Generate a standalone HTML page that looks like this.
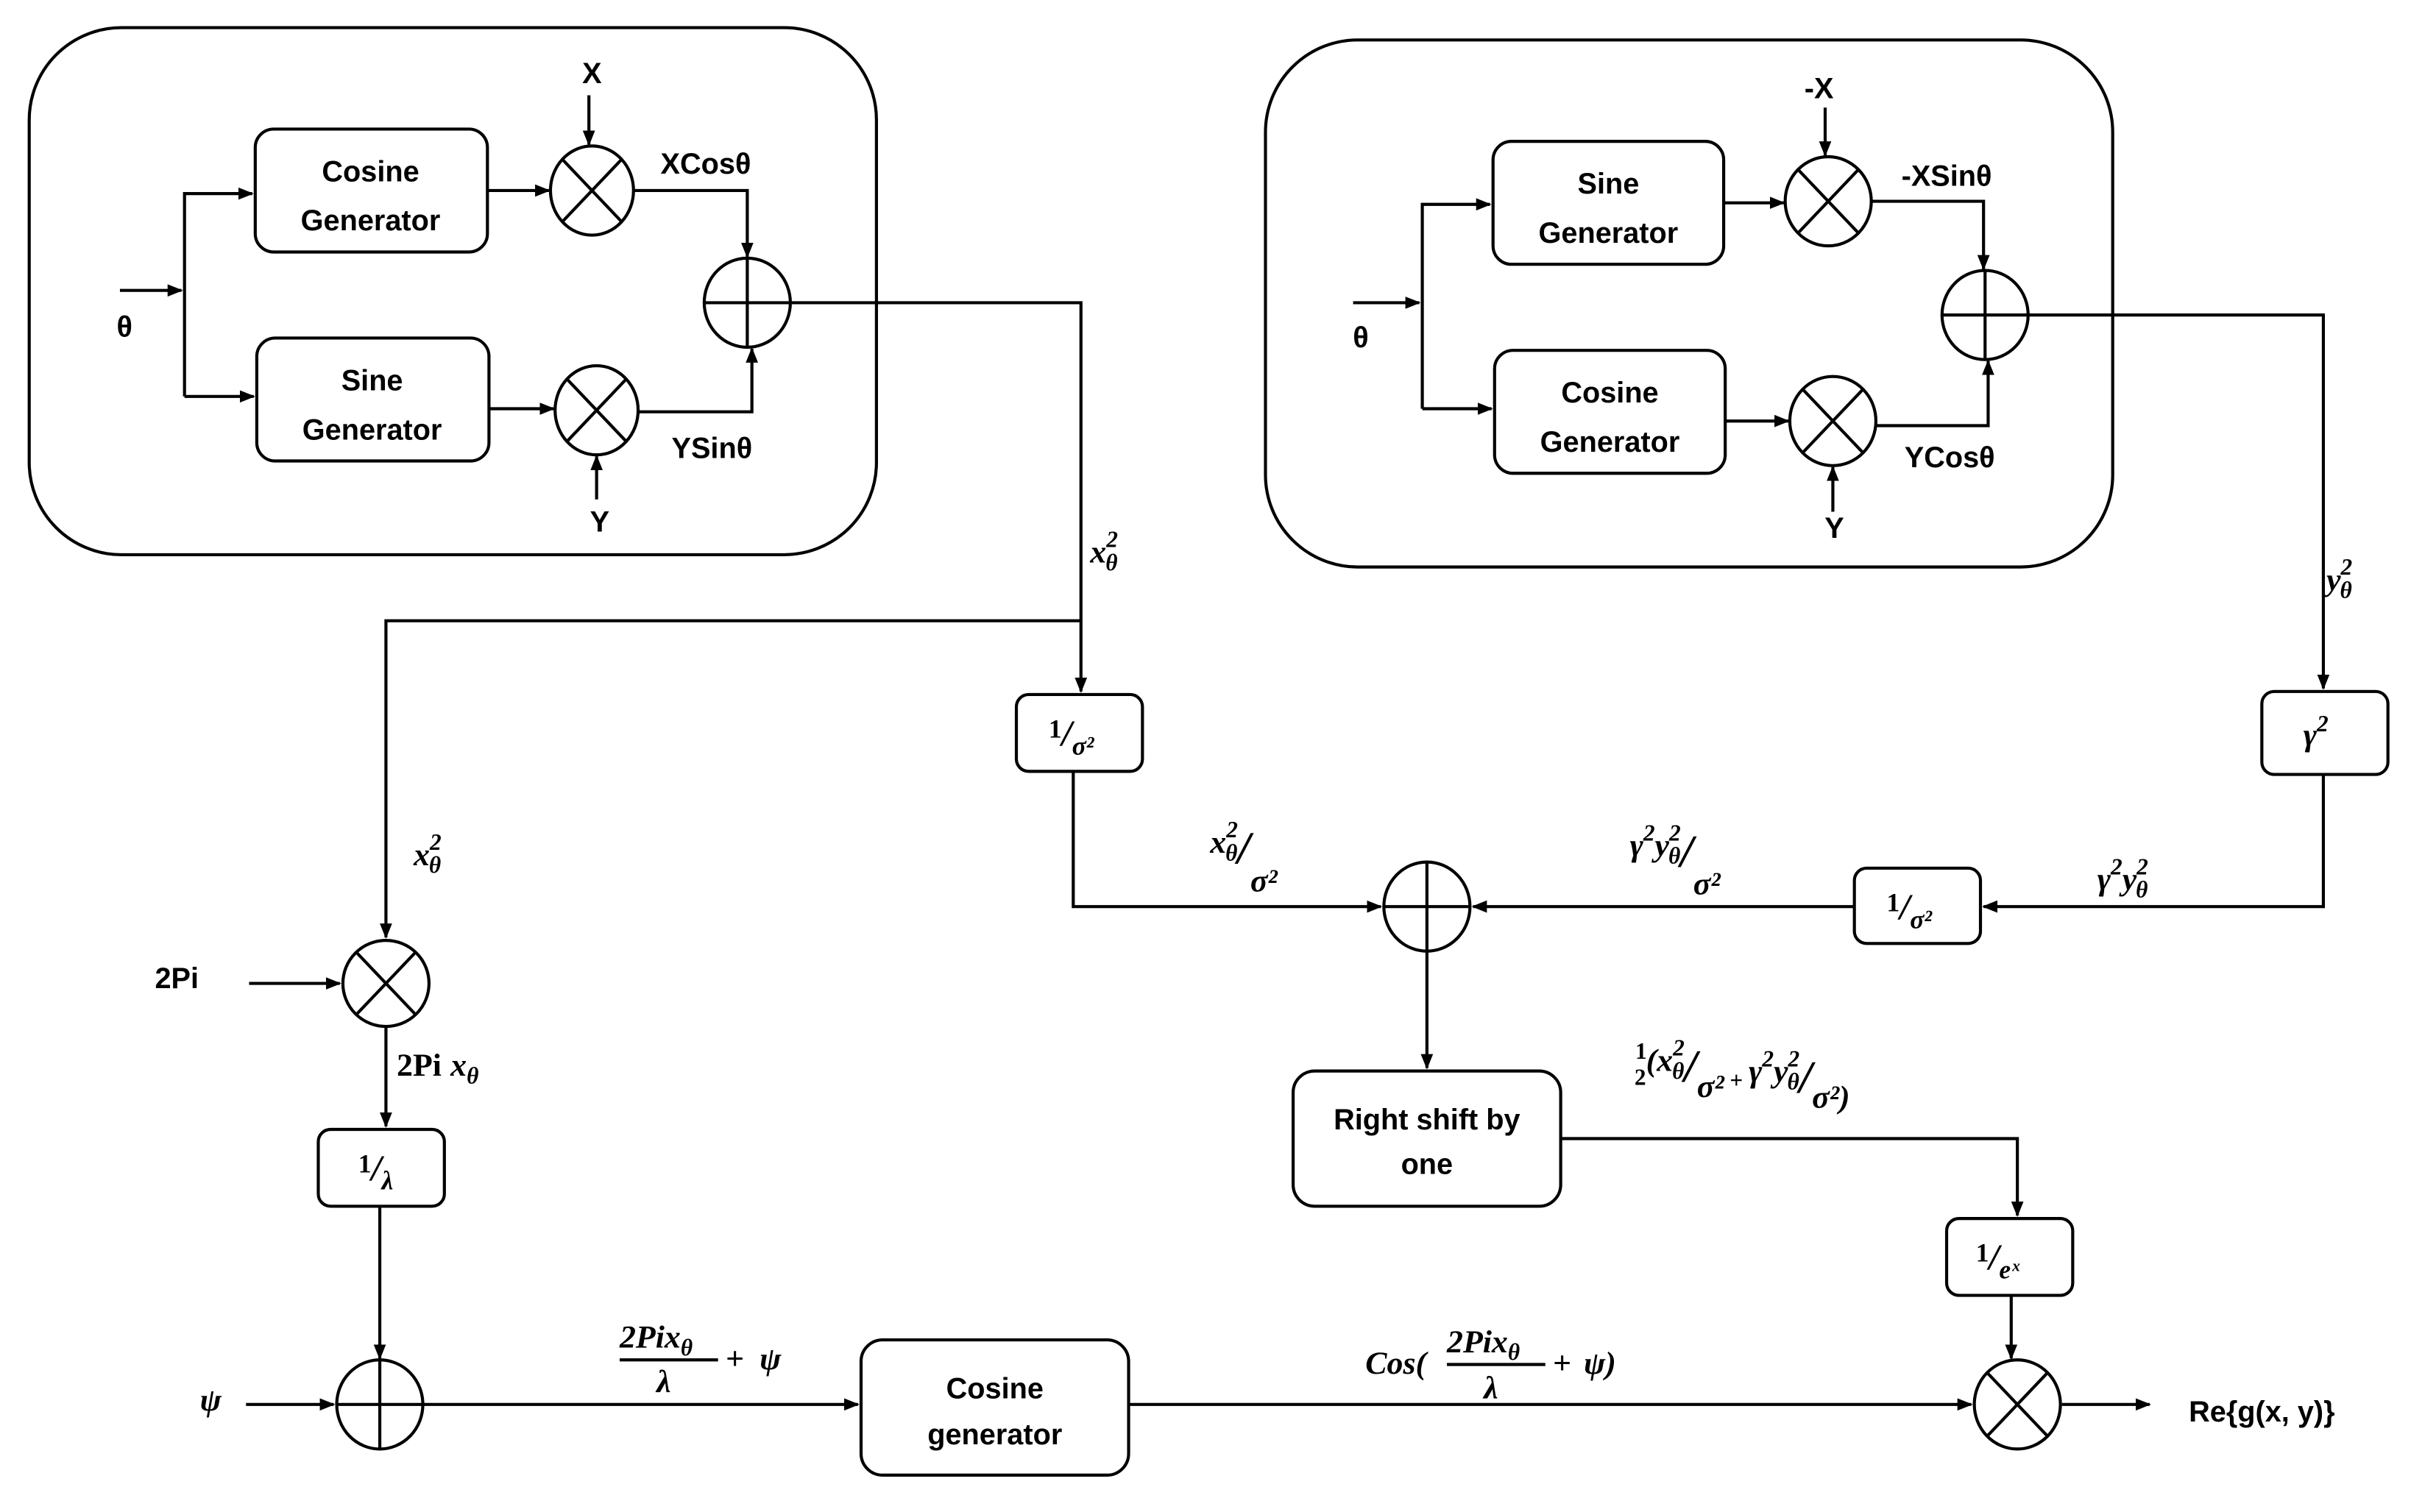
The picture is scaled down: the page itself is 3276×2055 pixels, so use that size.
<!DOCTYPE html>
<html><head><meta charset="utf-8"><style>
html,body{margin:0;padding:0;background:#fff;}
svg{display:block;}
.t{font-family:"Liberation Sans",sans-serif;font-weight:bold;font-size:19px;fill:#000;}
.m{font-family:"Liberation Serif",serif;font-style:italic;font-weight:bold;font-size:21px;fill:#000;}
.s{font-size:15px;}
.b{font-size:17px;}
</style></head><body>
<svg width="3276" height="2055" viewBox="0 0 1568 984" preserveAspectRatio="none" xmlns="http://www.w3.org/2000/svg">
<defs><marker id="a" markerWidth="10" markerHeight="10" refX="9" refY="5" orient="auto" markerUnits="userSpaceOnUse"><path d="M0,1 L10,5 L0,9 z" fill="#000"/></marker></defs>
<g fill="none" stroke="#000" stroke-width="2">
<rect x="19" y="18" width="551" height="343" rx="60"/>
<rect x="166" y="84" width="151" height="80" rx="12"/>
<rect x="167" y="220" width="151" height="80" rx="12"/>
<ellipse cx="385" cy="124" rx="27" ry="29"/><path d="M366,104 L404,144 M404,104 L366,144"/>
<ellipse cx="388" cy="267" rx="27" ry="29"/><path d="M369,247 L407,287 M407,247 L369,287"/>
<ellipse cx="486" cy="197" rx="28" ry="29"/><path d="M458,197 H514 M486,168 V226"/>
<path d="M78,189 H118" marker-end="url(#a)"/>
<path d="M120,258 V126 H164" marker-end="url(#a)"/>
<path d="M120,258 H165" marker-end="url(#a)"/>
<path d="M317,124 H357" marker-end="url(#a)"/>
<path d="M318,266 H360" marker-end="url(#a)"/>
<path d="M383,62 V94" marker-end="url(#a)"/>
<path d="M388,325 V297" marker-end="url(#a)"/>
<path d="M412,124 H486 V167" marker-end="url(#a)"/>
<path d="M415,268 H489 V227" marker-end="url(#a)"/>
<rect x="823" y="26" width="551" height="343" rx="60"/>
<rect x="971" y="92" width="150" height="80" rx="12"/>
<rect x="972" y="228" width="150" height="80" rx="12"/>
<ellipse cx="1189" cy="131" rx="28" ry="29"/><path d="M1170,111 L1208,151 M1208,111 L1170,151"/>
<ellipse cx="1192" cy="274" rx="28" ry="29"/><path d="M1173,254 L1211,294 M1211,254 L1173,294"/>
<ellipse cx="1291" cy="205" rx="28" ry="29"/><path d="M1263,205 H1319 M1291,176 V234"/>
<path d="M880,197 H923" marker-end="url(#a)"/>
<path d="M925,266 V133 H969" marker-end="url(#a)"/>
<path d="M925,266 H970" marker-end="url(#a)"/>
<path d="M1121,132 H1160" marker-end="url(#a)"/>
<path d="M1122,274 H1163" marker-end="url(#a)"/>
<path d="M1187,70 V101" marker-end="url(#a)"/>
<path d="M1192,333 V304" marker-end="url(#a)"/>
<path d="M1217,131 H1290 V175" marker-end="url(#a)"/>
<path d="M1220,277 H1293 V235" marker-end="url(#a)"/>
<path d="M514,197 H703 V450" marker-end="url(#a)"/>
<path d="M703,404 H251 V610" marker-end="url(#a)"/>
<rect x="661" y="452" width="82" height="50" rx="8"/>
<path d="M698,502 V590 H898" marker-end="url(#a)"/>
<ellipse cx="928" cy="590" rx="28" ry="29"/><path d="M900,590 H956 M928,561 V619"/>
<path d="M1319,205 H1511 V448" marker-end="url(#a)"/>
<rect x="1471" y="450" width="82" height="54" rx="8"/>
<path d="M1511,504 V590 H1290" marker-end="url(#a)"/>
<rect x="1206" y="565" width="82" height="49" rx="8"/>
<path d="M1206,590 H958" marker-end="url(#a)"/>
<path d="M928,619 V695" marker-end="url(#a)"/>
<rect x="841" y="697" width="174" height="88" rx="14"/>
<path d="M1015,741 H1312 V791" marker-end="url(#a)"/>
<rect x="1266" y="793" width="82" height="50" rx="8"/>
<path d="M1308,843 V884" marker-end="url(#a)"/>
<ellipse cx="1312" cy="914" rx="28" ry="29"/><path d="M1293,894 L1331,934 M1331,894 L1293,934"/>
<path d="M1341,914 H1398" marker-end="url(#a)"/>
<ellipse cx="251" cy="640" rx="28" ry="28"/><path d="M232,620 L270,660 M270,620 L232,660"/>
<path d="M162,640 H221" marker-end="url(#a)"/>
<path d="M251,668 V733" marker-end="url(#a)"/>
<rect x="207" y="735" width="82" height="50" rx="8"/>
<path d="M247,785 V884" marker-end="url(#a)"/>
<ellipse cx="247" cy="914" rx="28" ry="29"/><path d="M219,914 H275 M247,885 V943"/>
<path d="M160,914 H217" marker-end="url(#a)"/>
<path d="M275,914 H558" marker-end="url(#a)"/>
<rect x="560" y="872" width="174" height="88" rx="14"/>
<path d="M734,914 H1282" marker-end="url(#a)"/>
<path d="M403,885 H467 M941,888 H1005"/>
</g>
<g class="t" text-anchor="middle">
<text x="241" y="118">Cosine</text><text x="241" y="150">Generator</text>
<text x="242" y="254">Sine</text><text x="242" y="286">Generator</text>
<text x="1046" y="126">Sine</text><text x="1046" y="158">Generator</text>
<text x="1047" y="262">Cosine</text><text x="1047" y="294">Generator</text>
<text x="928" y="735">Right shift by</text><text x="928" y="764">one</text>
<text x="647" y="910">Cosine</text><text x="647" y="940">generator</text>
<text x="385" y="54">X</text><text x="459" y="113">XCosθ</text>
<text x="463" y="298">YSinθ</text><text x="390" y="346">Y</text>
<text x="81" y="219">θ</text><text x="885" y="226">θ</text>
<text x="1183" y="64">-X</text><text x="1266" y="121">-XSinθ</text>
<text x="1268" y="304">YCosθ</text><text x="1193" y="350">Y</text>
<text x="115" y="643">2Pi</text>
<text x="1471" y="925">Re{g(x, y)}</text>
</g>
<g class="m">
<text x="709" y="366">x<tspan class="s" dy="-10">2</tspan><tspan class="s" dx="-8" dy="15">θ</tspan></text>
<text x="269" y="563">x<tspan class="s" dy="-10">2</tspan><tspan class="s" dx="-8" dy="15">θ</tspan></text>
<text x="1513" y="384">y<tspan class="s" dy="-10">2</tspan><tspan class="s" dx="-8" dy="15">θ</tspan></text>
<text x="258" y="700" style="font-style:normal">2Pi</text><text x="293" y="700">x<tspan class="s" dy="5">θ</tspan></text>
<text x="682" y="485"><tspan style="font-style:normal" class="b" dy="-5">1</tspan><tspan font-size="24" dy="5">/</tspan><tspan class="b" dy="6">σ²</tspan></text>
<text x="1227" y="598"><tspan style="font-style:normal" class="b" dy="-5">1</tspan><tspan font-size="24" dy="5">/</tspan><tspan class="b" dy="6">σ²</tspan></text>
<text x="233" y="768"><tspan style="font-style:normal" class="b" dy="-5">1</tspan><tspan font-size="24" dy="5">/</tspan><tspan class="b" dy="6">λ</tspan></text>
<text x="1285" y="826"><tspan style="font-style:normal" class="b" dy="-5">1</tspan><tspan font-size="24" dy="5">/</tspan><tspan class="b" dy="6">eˣ</tspan></text>
<text x="1498" y="485">γ<tspan class="s" dy="-9">2</tspan></text>
<text x="787" y="555">x<tspan class="s" dy="-10">2</tspan><tspan class="s" dx="-8" dy="15">θ</tspan><tspan font-size="30" dy="2">/</tspan><tspan dy="18">σ²</tspan></text>
<text x="1060" y="557">γ<tspan class="s" dy="-10">2</tspan><tspan dy="10">y</tspan><tspan class="s" dy="-10">2</tspan><tspan class="s" dx="-8" dy="15">θ</tspan><tspan font-size="30" dy="2">/</tspan><tspan dy="18">σ²</tspan></text>
<text x="1364" y="579">γ<tspan class="s" dy="-10">2</tspan><tspan dy="10">y</tspan><tspan class="s" dy="-10">2</tspan><tspan class="s" dx="-8" dy="15">θ</tspan></text>
<text x="1063" y="697"><tspan class="s" font-style="normal" dy="-8">1</tspan><tspan class="s" font-style="normal" dx="-8" dy="17">2</tspan><tspan dy="-9">(x</tspan><tspan class="s" dy="-10">2</tspan><tspan class="s" dx="-8" dy="15">θ</tspan><tspan font-size="30" dy="2">/</tspan><tspan dy="10">σ²</tspan><tspan dy="-6" class="s" font-style="normal"> + </tspan><tspan dy="-4">γ</tspan><tspan class="s" dy="-10">2</tspan><tspan dy="10">y</tspan><tspan class="s" dy="-10">2</tspan><tspan class="s" dx="-8" dy="15">θ</tspan><tspan font-size="30" dy="2">/</tspan><tspan dy="10">σ²)</tspan></text>
<text x="403" y="877">2Pix<tspan class="s" dy="5">θ</tspan></text>
<text x="427" y="906">λ</text>
<text x="472" y="891" style="font-style:normal">+</text><text x="494" y="891">ψ</text>
<text x="888" y="894">Cos(</text>
<text x="941" y="880">2Pix<tspan class="s" dy="5">θ</tspan></text>
<text x="965" y="910">λ</text>
<text x="1010" y="894" style="font-style:normal">+</text><text x="1030" y="894">ψ)</text>
<text x="130" y="918">ψ</text>
</g>
</svg>
</body></html>
